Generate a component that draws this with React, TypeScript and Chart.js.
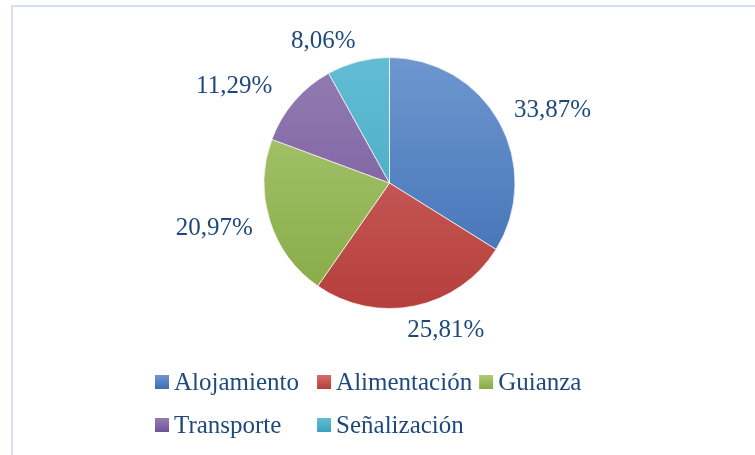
import React, { useEffect, useRef } from "react";
import { Chart, registerables } from "chart.js";

Chart.register(...registerables);

const categories = ["Alojamiento", "Alimentación", "Guianza", "Transporte", "Señalización"];
const shares = [33.87, 25.81, 20.97, 11.29, 8.06];
const percentLabels = ["33,87%", "25,81%", "20,97%", "11,29%", "8,06%"];
const lightColors = ["#6E97CF", "#D46C69", "#AECB78", "#947DB2", "#62BDD4"];
const darkColors = ["#3D6DB3", "#B53F3C", "#86A944", "#70539A", "#3CA2BD"];
const legendColors = ["#4A7CC0", "#C44B48", "#9ABB58", "#7F62A3", "#4BAEC8"];

const FONT = "'Liberation Serif', 'Times New Roman', serif";
const TEXT = "#1F497D";

const nudges = [
  [6, -1.5],
  [21, 5],
  [-7.5, 2],
  [-14.5, 0],
  [-24, 0],
];

const framePlugin = {
  id: "frame",
  beforeDraw(chart: any) {
    const c = chart.ctx;
    c.save();
    c.fillStyle = "#ffffff";
    c.fillRect(0, 0, chart.width, chart.height);
    c.strokeStyle = "#D6E1F0";
    c.lineWidth = 2;
    c.beginPath();
    c.moveTo(12, chart.height);
    c.lineTo(12, 6);
    c.lineTo(chart.width, 6);
    c.stroke();
    c.restore();
  },
};

const labelPlugin = {
  id: "outLabels",
  afterDatasetsDraw(chart: any) {
    const c = chart.ctx;
    const meta = chart.getDatasetMeta(0);
    c.save();
    c.font = `25px ${FONT}`;
    c.fillStyle = TEXT;
    c.textAlign = "center";
    c.textBaseline = "middle";
    meta.data.forEach((arc: any, i: number) => {
      const p = arc.getProps(["x", "y", "startAngle", "endAngle", "outerRadius"], true);
      const mid = (p.startAngle + p.endAngle) / 2;
      const dx = Math.cos(mid);
      const dy = Math.sin(mid);
      const gap = 10;
      const ax = p.x + dx * (p.outerRadius + gap);
      const ay = p.y + dy * (p.outerRadius + gap);
      const w = c.measureText(percentLabels[i]).width;
      const h = 20;
      const m = Math.max(Math.abs(dx), Math.abs(dy));
      const cx = ax + (dx / m) * (w / 2) + nudges[i][0];
      const cy = ay + (dy / m) * (h / 2) + nudges[i][1];
      c.fillText(percentLabels[i], cx, cy);
    });
    c.restore();
  },
};

const legendPlugin = {
  id: "gridLegend",
  afterDraw(chart: any) {
    const c = chart.ctx;
    c.save();
    c.font = `25px ${FONT}`;
    c.textBaseline = "middle";
    c.textAlign = "left";
    const box = 14;
    const boxGap = 5;
    const widths = categories.map((t) => box + boxGap + c.measureText(t).width);
    const colW = Math.max(...widths) + 7;
    const startX = 155;
    const rowY = [382, 425];
    categories.forEach((t, i) => {
      const col = i % 3;
      const row = Math.floor(i / 3);
      const x = startX + col * colW;
      const y = rowY[row];
      const g = c.createLinearGradient(0, y - box / 2, 0, y + box / 2);
      g.addColorStop(0, lightColors[i]);
      g.addColorStop(1, darkColors[i]);
      c.fillStyle = g;
      c.fillRect(x, y - box / 2, box, box);
      c.fillStyle = TEXT;
      c.fillText(t, x + box + boxGap, y + 1);
    });
    c.restore();
  },
};

export default function App() {
  const ref = useRef<HTMLCanvasElement>(null);
  useEffect(() => {
    document.body.style.margin = "0";
    const chart = new Chart(ref.current!, {
      type: "pie",
      data: {
        labels: categories,
        datasets: [
          {
            data: shares,
            backgroundColor: (ctx: any) => {
              const area = ctx.chart.chartArea;
              const i = ctx.dataIndex;
              if (!area) return legendColors[i];
              const g = ctx.chart.ctx.createLinearGradient(0, area.top, 0, area.bottom);
              g.addColorStop(0, lightColors[i]);
              g.addColorStop(1, darkColors[i]);
              return g;
            },
            borderColor: "rgba(255,255,255,0.7)",
            borderWidth: 1,
          },
        ],
      },
      options: {
        responsive: false,
        animation: false,
        layout: { padding: { left: 263, right: 239, top: 57, bottom: 146 } },
        plugins: { legend: { display: false }, tooltip: { enabled: false } },
      },
      plugins: [framePlugin, labelPlugin, legendPlugin],
    });
    return () => chart.destroy();
  }, []);
  return (
    <div style={{ width: 755, height: 455 }}>
      <canvas ref={ref} width={755} height={455} />
    </div>
  );
}
